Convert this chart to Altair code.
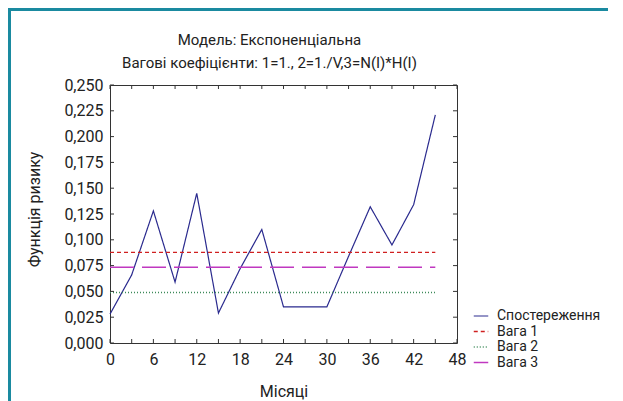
import altair as alt
import pandas as pd

# ---- data ----
months = [0, 3, 6, 9, 12, 15, 18, 21, 24, 27, 30, 33, 36, 39, 42, 45]
risk = [0.028, 0.066, 0.128, 0.059, 0.145, 0.029, 0.072, 0.110,
        0.035, 0.035, 0.035, 0.084, 0.132, 0.095, 0.134, 0.221]
weight_names = ["Вага 1", "Вага 2", "Вага 3"]
weight_values = [0.0878, 0.0490, 0.0734]
weight_span = [0, 45]
series_names = ["Спостереження", "Вага 1", "Вага 2", "Вага 3"]
x_tick_labels = [0, 6, 12, 18, 24, 30, 36, 42, 48]
x_minor_ticks = list(range(0, 49, 3))
y_tick_values = [0.0, 0.025, 0.05, 0.075, 0.1, 0.125, 0.15, 0.175, 0.2, 0.225, 0.25]

rows = [{"month": m, "value": v, "series": "Спостереження"} for m, v in zip(months, risk)]
for name, val in zip(weight_names, weight_values):
    for m in weight_span:
        rows.append({"month": m, "value": val, "series": name})
df = pd.DataFrame(rows)

W, H = 347, 258
FONT = "Roboto"

color_scale = alt.Scale(domain=series_names,
                        range=["#2a2a8e", "#d02020", "#3d8a5a", "#c038c0"])
dash_scale = alt.Scale(domain=series_names,
                       range=[[1, 0], [4, 3], [1, 2], [24, 8]])
width_scale = alt.Scale(domain=series_names, range=[1.2, 1.5, 1.3, 1.2])

xscale = alt.Scale(domain=[0, 48], nice=False)
yscale = alt.Scale(domain=[0, 0.25], nice=False)

x_axis = alt.Axis(values=x_tick_labels, title="Місяці", grid=False,
                  ticks=False, tickSize=0, domain=False,
                  labelFont=FONT, labelFontSize=16, labelColor="#222",
                  labelPadding=8, labelFlush=False,
                  titleFont=FONT, titleFontSize=16, titleFontWeight="normal",
                  titleColor="#222", titleY=48, titleBaseline="middle")
y_axis = alt.Axis(values=y_tick_values, title="Функція ризику", grid=False,
                  ticks=False, tickSize=0, domain=False,
                  labelExpr="replace(format(datum.value, '.3f'), '.', ',')",
                  labelFont=FONT, labelFontSize=16, labelColor="#222",
                  labelPadding=7, labelFlush=False,
                  titleFont=FONT, titleFontSize=16, titleFontWeight="normal",
                  titleColor="#222", titleX=-76, titleY=124,
                  titleBaseline="middle")

lines = alt.Chart(df).mark_line().encode(
    x=alt.X("month:Q", scale=xscale, axis=x_axis),
    y=alt.Y("value:Q", scale=yscale, axis=y_axis),
    color=alt.Color("series:N", scale=color_scale,
                    legend=alt.Legend(title=None, orient="none", legendX=363, legendY=223,
                                      labelFont=FONT, labelFontSize=14, labelColor="#222",
                                      symbolType="stroke", symbolSize=210,
                                      symbolStrokeWidth=1.2, rowPadding=0.5, labelOffset=8)),
    strokeDash=alt.StrokeDash("series:N", scale=dash_scale, legend=None),
    strokeWidth=alt.StrokeWidth("series:N", scale=width_scale, legend=None),
    order=alt.Order("month:Q"),
)

xt = pd.DataFrame({"month": x_minor_ticks})
yt = pd.DataFrame({"value": y_tick_values})

bottom_ticks = alt.Chart(xt).mark_rule(color="#333", strokeWidth=1).encode(
    x=alt.X("month:Q", scale=xscale, axis=x_axis), y=alt.value(H), y2=alt.value(H - 4))
top_ticks = alt.Chart(xt).mark_rule(color="#333", strokeWidth=1).encode(
    x=alt.X("month:Q", scale=xscale, axis=x_axis), y=alt.value(0), y2=alt.value(4))
left_ticks = alt.Chart(yt).mark_rule(color="#333", strokeWidth=1).encode(
    y=alt.Y("value:Q", scale=yscale, axis=y_axis), x=alt.value(0), x2=alt.value(4))
right_ticks = alt.Chart(yt).mark_rule(color="#333", strokeWidth=1).encode(
    y=alt.Y("value:Q", scale=yscale, axis=y_axis), x=alt.value(W), x2=alt.value(W - 4))

frame_data = alt.Data(values=[{"k": 1}])
border_top = alt.Chart(frame_data).mark_rule(color="#1a8aa0", strokeWidth=3).encode(
    x=alt.value(-104), x2=alt.value(520), y=alt.value(-75.5))
border_left = alt.Chart(frame_data).mark_rule(color="#1a8aa0", strokeWidth=3).encode(
    x=alt.value(-100.5), y=alt.value(-75.5), y2=alt.value(330))

chart = alt.layer(
    border_top, border_left,
    lines, bottom_ticks, top_ticks, left_ticks, right_ticks,
).properties(
    width=W, height=H,
    title=alt.TitleParams(
        text=["Модель: Експоненціальна",
              "Вагові коефіцієнти: 1=1., 2=1./V,3=N(I)*H(I)"],
        font=FONT, fontSize=15, fontWeight="normal", color="#222",
        anchor="middle", dx=-14, offset=-63, lineHeight=23),
    autosize=alt.AutoSizeParams(type="none"),
    padding={"left": 102, "top": 77, "right": 151, "bottom": 60},
).configure_view(
    stroke="#333", strokeWidth=1
).resolve_scale(
    x="shared", y="shared"
)

chart.save("out.html", embed_options={"renderer": "svg", "actions": False})
